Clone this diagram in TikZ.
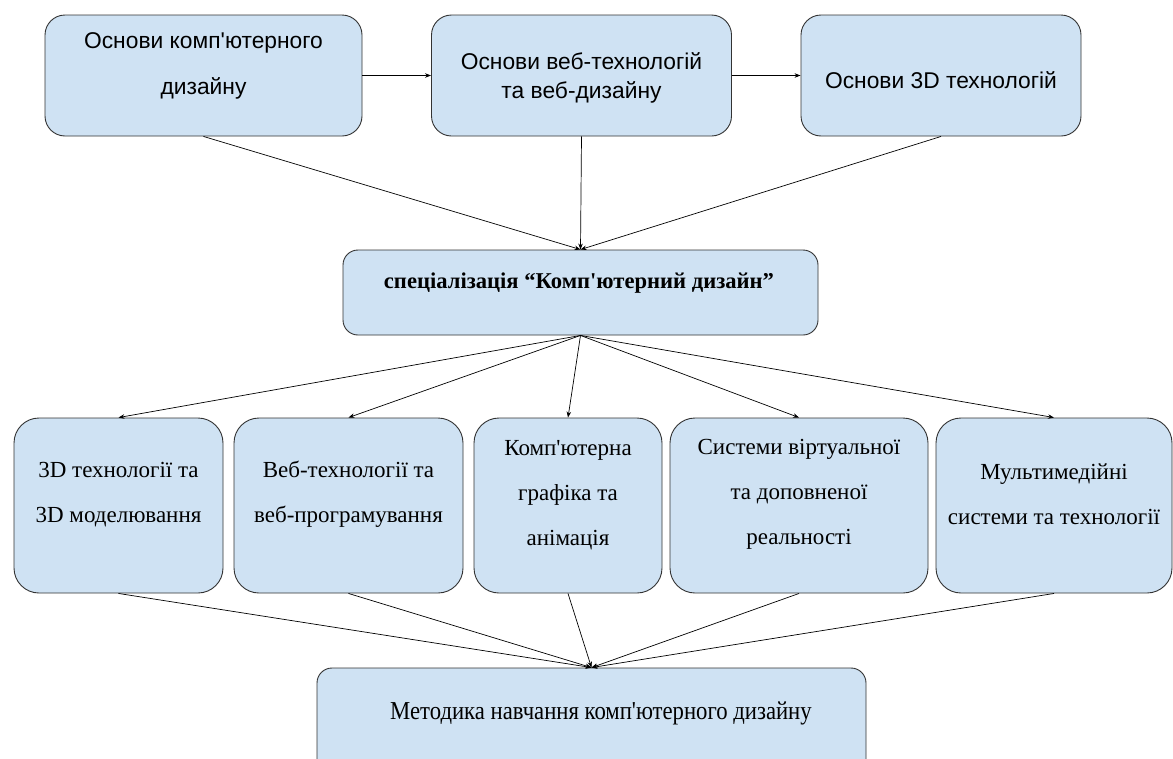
\documentclass[tikz,border=0pt]{standalone}
\usepackage{fontspec}
\setmainfont{Liberation Serif}[Ligatures=TeXOff]
\newfontfamily\arialf{Liberation Sans}[Ligatures=TeXOff]
\newfontfamily\condf{Liberation Serif}[Ligatures=TeXOff,FakeStretch=0.88]
\usetikzlibrary{arrows.meta}
\definecolor{boxfill}{HTML}{CFE2F3}
\definecolor{boxline}{HTML}{333333}
\begin{document}
\begin{tikzpicture}[x=1pt,y=-1pt,
  box/.style={draw=boxline, line width=0.9pt, fill=boxfill, inner sep=0pt, rounded corners=#1},
  box/.default=15pt,
  toptxt/.style={font=\arialf\fontsize{22.8}{#1}\selectfont, align=center, inner sep=0pt},
  sertxt/.style={font=\fontsize{23}{45}\selectfont, align=center, inner sep=0pt},
  conn/.style={draw=black, line width=0.7pt, -{Stealth[length=6pt,width=4.5pt]}}]
\clip (0,0) rectangle (1173,758);
\fill[white] (0,0) rectangle (1173,758);
% top row
\node[box=20pt, minimum width=317pt, minimum height=121pt] (b1) at (203.5,75.5) {};
\node[box=20pt, minimum width=300pt, minimum height=121pt] (b2) at (581.5,75.5) {};
\node[box=20pt, minimum width=280pt, minimum height=121pt] (b3) at (941,75.5) {};
\node[toptxt=46] (t1) at (203.5,66) {Основи комп'ютерного\\дизайну};
\node[toptxt=29] (t2) at (581.5,77.5) {Основи веб-технологій\\та веб-дизайну};
\node[toptxt=25] (t3) at (941,80) {Основи 3D технологій};
% middle
\node[box=15pt, minimum width=475pt, minimum height=85pt] (mid) at (580.5,292.5) {};
\node[font=\bfseries\fontsize{22.6}{25}\selectfont, inner sep=0pt] (tm) at (579,283) {спеціалізація “Комп'ютерний дизайн”};
% second row
\node[box=25pt, minimum width=209pt, minimum height=175pt] (ra) at (118.5,505.5) {};
\node[box=25pt, minimum width=229pt, minimum height=175pt] (rb) at (348.5,505.5) {};
\node[box=25pt, minimum width=188pt, minimum height=175pt] (rc) at (568,505.5) {};
\node[box=25pt, minimum width=258pt, minimum height=175pt] (rd) at (799,505.5) {};
\node[box=25pt, minimum width=236pt, minimum height=175pt] (re) at (1054,505.5) {};
\node[sertxt] (ta) at (118.5,494.5) {3D технології та\\3D моделювання};
\node[sertxt] (tb) at (348.5,494.5) {Веб-технології та\\веб-програмування};
\node[sertxt] (tc) at (568,495) {Комп'ютерна\\графіка та\\анімація};
\node[sertxt] (td) at (799,494) {Системи віртуальної\\та доповненої\\реальності};
\node[sertxt] (te) at (1054,494.5) {Мультимедійні\\системи та технології};
% bottom
\node[box=15pt, minimum width=549pt, minimum height=120pt] (bot) at (591.5,728) {};
\node[font=\condf\fontsize{25.8}{30}\selectfont, inner sep=0pt] (tbot) at (601,713) {Методика навчання комп'ютерного дизайну};
% connectors
\draw[conn] (b1.east) -- (b2.west);
\draw[conn] (b2.east) -- (b3.west);
\draw[conn] (b1.south) -- (mid.north);
\draw[conn] (b2.south) -- (mid.north);
\draw[conn] (b3.south) -- (mid.north);
\draw[conn] (mid.south) -- (ra.north);
\draw[conn] (mid.south) -- (rb.north);
\draw[conn] (mid.south) -- (rc.north);
\draw[conn] (mid.south) -- (rd.north);
\draw[conn] (mid.south) -- (re.north);
\draw[conn] (ra.south) -- (bot.north);
\draw[conn] (rb.south) -- (bot.north);
\draw[conn] (rc.south) -- (bot.north);
\draw[conn] (rd.south) -- (bot.north);
\draw[conn] (re.south) -- (bot.north);
\end{tikzpicture}
\end{document}
